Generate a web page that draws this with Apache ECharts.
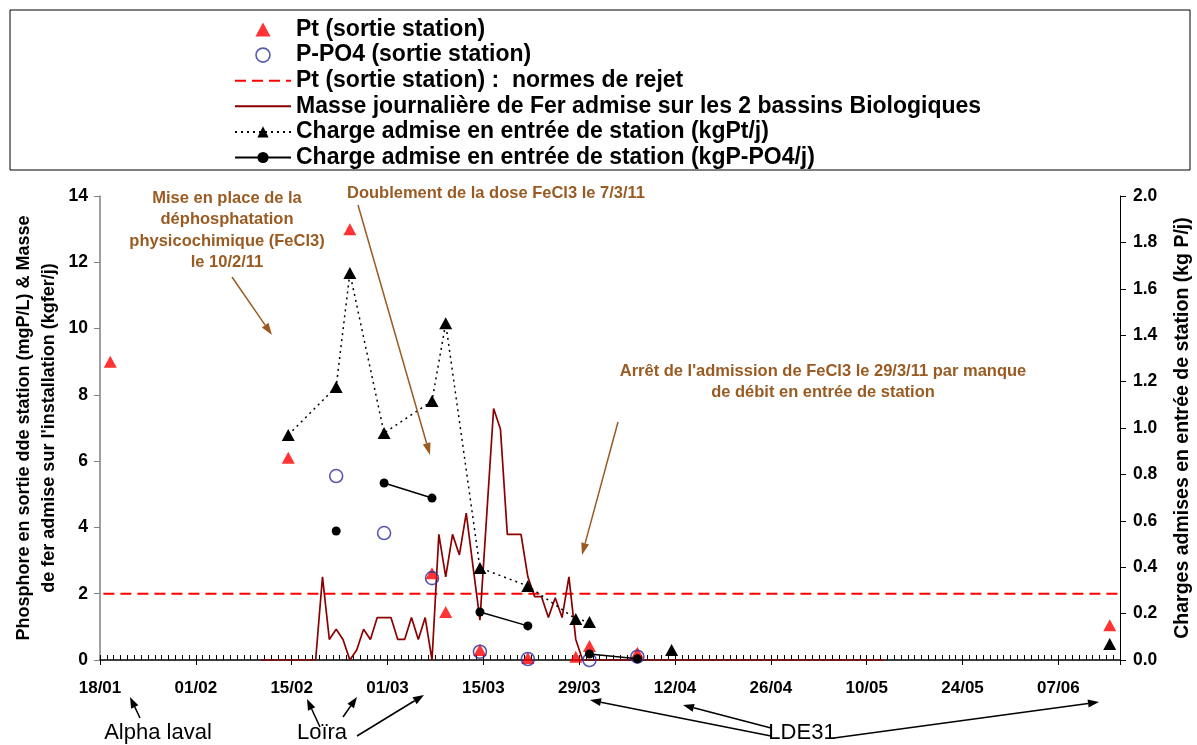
<!DOCTYPE html>
<html><head><meta charset="utf-8">
<script src="https://cdn.jsdelivr.net/npm/echarts@6/dist/echarts.min.js"></script>
<style>html,body{margin:0;padding:0;background:#fff}#c{width:1197px;height:745px}</style>
</head><body><div id="c"></div>
<script>
// ---------- DATA ----------
const axisStartDate = '2011-01-18';
const axisDays = 149;           // axis spans 18/01 -> 16/06
const tickEveryDays = 14;

const ptDates  = ['2011-01-19','2011-02-14','2011-02-23','2011-03-07','2011-03-09','2011-03-14','2011-03-21','2011-03-28','2011-03-30','2011-04-06','2011-06-14'];
const ptValues = [9.0, 6.1, 13.0, 2.62, 1.45, 0.3, 0.06, 0.1, 0.42, 0.22, 1.05];

const po4Dates  = ['2011-02-21','2011-02-28','2011-03-07','2011-03-14','2011-03-21','2011-03-30','2011-04-06'];
const po4Values = [5.55, 3.83, 2.47, 0.25, 0.03, 0.0, 0.1];

const normDates  = ['2011-01-18','2011-06-16'];
const normValues = [2, 2];

const ferStartDate = '2011-02-10';
const ferValues = [
  0,0,0,0,0,0,0,0,0,
  2.51,0.62,0.93,0.62,0,0.3,0.93,0.62,1.28,1.28,1.28,0.62,0.62,1.28,0.62,1.28,0,
  3.79,2.51,3.79,3.17,4.43,2.8,1.2,4.4,7.59,6.96,3.79,3.79,3.79,2.51,1.91,1.91,1.28,1.88,1.28,2.51,0.62,
  0,0,0,0,0,0,0,0,0,0,0,0,0,0,0,0,0,0,0,0,0,0,0,0,0,0,0,0,0,0,0,0,0,0,0,0,0,0,0,0,0,0,0,0,0
];

const chPtDates  = ['2011-02-14','2011-02-21','2011-02-23','2011-02-28','2011-03-07','2011-03-09','2011-03-14','2011-03-21','2011-03-28','2011-03-30','2011-04-11','2011-06-14'];
const chPtValues = [0.97, 1.177, 1.668, 0.978, 1.116, 1.452, 0.397, 0.319, 0.177, 0.164, 0.043, 0.069];
const chPtGroups = [1,1,1,1,1,1,1,1,1,1,2,3];

const chPo4Dates  = ['2011-02-21','2011-02-28','2011-03-07','2011-03-14','2011-03-21','2011-03-30','2011-04-06'];
const chPo4Values = [0.556, 0.763, 0.698, 0.207, 0.147, 0.026, 0.005];
const chPo4Groups = [1,2,2,3,3,4,4];

const seriesNames = [
  'Pt (sortie station)',
  'P-PO4 (sortie station)',
  'Pt (sortie station) :  normes de rejet',
  'Masse journalière de Fer admise sur les 2 bassins Biologiques',
  'Charge admise en entrée de station (kgPt/j)',
  'Charge admise en entrée de station (kgP-PO4/j)'
];

// ---------- HELPERS ----------
const DAY = 86400000;
function utc(s){ const p = s.split('-').map(Number); return Date.UTC(p[0], p[1]-1, p[2]); }
const T0 = utc(axisStartDate);
function dayPos(s){ return (utc(s) - T0) / DAY + 0.5; }   // point at centre of its day
function pairs(dates, vals){ return dates.map((d,i)=>[dayPos(d), vals[i]]); }
function grouped(dates, vals, groups){
  const out = [];
  dates.forEach((d,i)=>{
    if (i>0 && groups[i]!==groups[i-1]) out.push([(dayPos(dates[i-1])+dayPos(d))/2, '-']);
    out.push([dayPos(d), vals[i]]);
  });
  return out;
}
function daily(start, vals){ const p0 = dayPos(start); return vals.map((v,i)=>[p0+i, v]); }
function pad(n){ return (n<10?'0':'')+n; }

function arrow(x1,y1,x2,y2,color,w,hl,hw){
  const dx=x2-x1, dy=y2-y1, L=Math.sqrt(dx*dx+dy*dy), ux=dx/L, uy=dy/L;
  const bx=x2-ux*hl, by=y2-uy*hl, px=-uy*hw/2, py=ux*hw/2;
  return [
    {type:'line', shape:{x1:x1,y1:y1,x2:bx,y2:by}, style:{stroke:color,lineWidth:w}, z:10},
    {type:'polygon', shape:{points:[[x2,y2],[bx+px,by+py],[bx-px,by-py]]}, style:{fill:color}, z:10}
  ];
}

const FONT = "'Liberation Sans', Arial, sans-serif";
const BROWN = '#9A5B22';
const NOSYM = {color:'rgba(0,0,0,0)', borderColor:'rgba(0,0,0,0)', borderWidth:0};

const chart = echarts.init(document.getElementById('c'), null, {renderer:'canvas'});

const graphics = [
  {type:'rect', shape:{x:10,y:10,width:1180,height:160}, style:{fill:'none',stroke:'#000',lineWidth:1}, z:0},
  {type:'text', x:227, y:188, style:{text:'Mise en place de la\ndéphosphatation\nphysicochimique (FeCl3)\nle 10/2/11', font:'bold 16.5px '+FONT, fill:BROWN, textAlign:'center', textVerticalAlign:'top', lineHeight:21.3}, z:10},
  {type:'text', x:496, y:193, style:{text:'Doublement de la dose FeCl3 le 7/3/11', font:'bold 16.5px '+FONT, fill:BROWN, textAlign:'center', textVerticalAlign:'middle'}, z:10},
  {type:'text', x:823, y:361.5, style:{text:"Arrêt de l'admission de FeCl3 le 29/3/11 par manque\nde débit en entrée de station", font:'bold 16.5px '+FONT, fill:BROWN, textAlign:'center', textVerticalAlign:'top', lineHeight:20.5}, z:10},
  {type:'text', x:158, y:733, style:{text:'Alpha laval', font:'22px '+FONT, fill:'#000', textAlign:'center', textVerticalAlign:'middle'}, z:10},
  {type:'text', x:322, y:733, style:{text:'Loïra', font:'22px '+FONT, fill:'#000', textAlign:'center', textVerticalAlign:'middle'}, z:10},
  {type:'text', x:802, y:733, style:{text:'LDE31', font:'22px '+FONT, fill:'#000', textAlign:'center', textVerticalAlign:'middle'}, z:10}
]
.concat(arrow(232,277,272,335,BROWN,1.5,12,8))
.concat(arrow(358,205,430,455,BROWN,1.5,12,8))
.concat(arrow(618,422,582,555,BROWN,1.5,12,8))
.concat(arrow(140,718,130,697,'#000',1.5,11,8))
.concat(arrow(320,727,307,699,'#000',1.5,11,8))
.concat(arrow(343,717,357,697,'#000',1.5,11,8))
.concat(arrow(357,736,424,695,'#000',1.5,11,8))
.concat(arrow(771,736,590,700,'#000',1.5,11,8))
.concat(arrow(771,728,683,705,'#000',1.5,11,8))
.concat(arrow(834,738,1099,702,'#000',1.5,11,8));

const option = {
  animation:false,
  backgroundColor:'#fff',
  textStyle:{fontFamily:FONT},
  grid:{left:100, right:77, top:196, bottom:85, containLabel:false, outerBoundsMode:'none'},
  legend:{
    orient:'vertical', left:229, top:13, itemWidth:56, itemHeight:14, itemGap:2.6,
    selectedMode:false, symbolKeepAspect:true,
    textStyle:{fontFamily:FONT, fontWeight:'bold', fontSize:23, color:'#000', lineHeight:23},
    data:[
      {name:seriesNames[0], icon:'path://M7,0L14,13L0,13Z', itemStyle:{color:'#FF0000'}},
      {name:seriesNames[1], icon:'circle', itemStyle:{color:'rgba(0,0,0,0)', borderColor:'#2E2E9E', borderWidth:1.6}},
      {name:seriesNames[2], itemStyle:NOSYM},
      {name:seriesNames[3], itemStyle:NOSYM},
      {name:seriesNames[4]},
      {name:seriesNames[5]}
    ]
  },
  xAxis:[
    {type:'value', position:'bottom', min:0, max:axisDays, interval:tickEveryDays,
     axisLine:{show:true, onZero:false, lineStyle:{color:'#000', width:1.5}},
     axisTick:{show:true, inside:false, length:5, lineStyle:{color:'#000', width:1}},
     splitLine:{show:false},
     axisLabel:{show:true, margin:20, color:'#000', fontWeight:'bold', fontSize:17, fontFamily:FONT,
       formatter:function(v){ if (v % tickEveryDays !== 0) return ''; const dt=new Date(T0+v*DAY); return pad(dt.getUTCDate())+'/'+pad(dt.getUTCMonth()+1); }}
    },
    {type:'value', position:'bottom', min:0, max:axisDays, interval:1,
     axisLine:{show:false, onZero:false},
     axisTick:{show:true, inside:true, length:5, lineStyle:{color:'#000', width:1}},
     splitLine:{show:false}, axisLabel:{show:false}}
  ],
  yAxis:[
    {type:'value', position:'left', min:0, max:14, interval:2,
     name:"Phosphore en sortie dde station (mgP/L) & Masse\nde fer admise sur l'installation (kgfer/j)",
     nameLocation:'middle', nameRotate:90, nameGap:38, nameMoveOverlap:false,
     nameTextStyle:{fontFamily:FONT, fontWeight:'bold', fontSize:18, color:'#000', lineHeight:25, align:'center'},
     axisLine:{show:true, onZero:false, lineStyle:{color:'#808080', width:1.5}},
     axisTick:{show:true, inside:false, length:6, lineStyle:{color:'#808080', width:1}},
     splitLine:{show:false},
     axisLabel:{margin:12, color:'#000', fontWeight:'bold', fontSize:17.5, fontFamily:FONT}
    },
    {type:'value', position:'right', min:0, max:2, interval:0.2,
     name:'Charges admises en entrée de station (kg P/j)',
     nameLocation:'middle', nameRotate:90, nameGap:53, nameMoveOverlap:false,
     nameTextStyle:{fontFamily:FONT, fontWeight:'bold', fontSize:19.5, color:'#000'},
     axisLine:{show:true, onZero:false, lineStyle:{color:'#000', width:1}},
     axisTick:{show:true, inside:false, length:6, lineStyle:{color:'#000', width:1}},
     splitLine:{show:false},
     axisLabel:{margin:13, color:'#000', fontWeight:'bold', fontSize:17.5, fontFamily:FONT,
       formatter:function(v){ return v.toFixed(1); }}
    }
  ],
  series:[
    {name:seriesNames[0], type:'scatter', xAxisIndex:0, yAxisIndex:0, symbol:'triangle', symbolSize:[13,12],
     itemStyle:{color:'#FF0000'}, data:pairs(ptDates, ptValues), z:4},
    {name:seriesNames[1], type:'scatter', xAxisIndex:0, yAxisIndex:0, symbol:'circle', symbolSize:13,
     itemStyle:{color:'rgba(0,0,0,0)', borderColor:'#2E2E9E', borderWidth:1.6}, data:pairs(po4Dates, po4Values), z:5},
    {name:seriesNames[2], type:'line', xAxisIndex:0, yAxisIndex:0, symbol:'none', clip:false,
     lineStyle:{color:'#FF0000', width:2, type:[11,6]}, itemStyle:{color:'#FF0000'}, data:pairs(normDates, normValues), z:2},
    {name:seriesNames[3], type:'line', xAxisIndex:0, yAxisIndex:0, symbol:'none',
     lineStyle:{color:'#8B0000', width:1.7}, itemStyle:{color:'#8B0000'}, data:daily(ferStartDate, ferValues), z:3},
    {name:seriesNames[4], type:'line', xAxisIndex:0, yAxisIndex:1, symbol:'triangle', symbolSize:[13,12], showSymbol:true, showAllSymbol:true,
     lineStyle:{color:'#000', width:1.5, type:[2,4]}, itemStyle:{color:'#000'}, data:grouped(chPtDates, chPtValues, chPtGroups), z:4},
    {name:seriesNames[5], type:'line', xAxisIndex:0, yAxisIndex:1, symbol:'circle', symbolSize:9, showSymbol:true, showAllSymbol:true,
     lineStyle:{color:'#000', width:1.5}, itemStyle:{color:'#000'}, data:grouped(chPo4Dates, chPo4Values, chPo4Groups), z:6}
  ],
  graphic:graphics
};
chart.setOption(option);
</script></body></html>
